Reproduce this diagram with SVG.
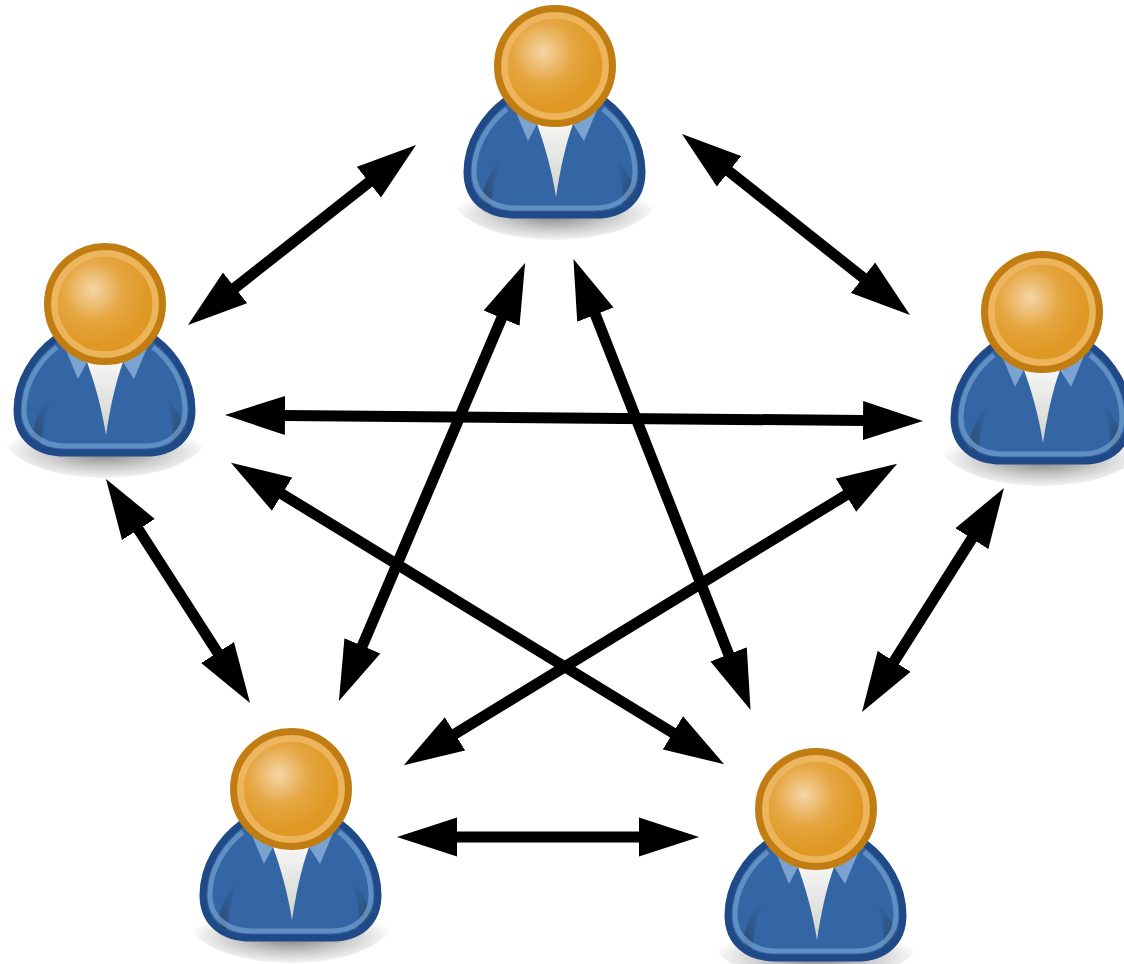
<svg xmlns="http://www.w3.org/2000/svg" xmlns:xlink="http://www.w3.org/1999/xlink" width="1124" height="964" viewBox="0 0 1124 964">
<defs>
<radialGradient id="sh" cx="0.5" cy="0.72" r="0.5" gradientTransform="translate(0.5 0.72) scale(1 0.62) translate(-0.5 -0.72)">
<stop offset="0" stop-color="#000" stop-opacity="0.5"/><stop offset="0.55" stop-color="#000" stop-opacity="0.2"/><stop offset="1" stop-color="#000" stop-opacity="0"/>
</radialGradient>
<radialGradient id="hd" gradientUnits="userSpaceOnUse" cx="-12" cy="-14" r="56">
<stop offset="0" stop-color="#f5d5a6"/><stop offset="0.55" stop-color="#e5a540"/><stop offset="1" stop-color="#df9823"/>
</radialGradient>
<linearGradient id="shirt" x1="0" y1="0" x2="0" y2="1"><stop offset="0" stop-color="#fff"/><stop offset="1" stop-color="#cfd2cc"/></linearGradient>
<linearGradient id="wl" x1="1" y1="0" x2="0" y2="1"><stop offset="0" stop-color="#204a87" stop-opacity="0"/><stop offset="1" stop-color="#2e3436" stop-opacity="0.6"/></linearGradient>
<linearGradient id="wr" x1="0" y1="0" x2="1" y2="1"><stop offset="0" stop-color="#204a87" stop-opacity="0"/><stop offset="1" stop-color="#2e3436" stop-opacity="0.65"/></linearGradient>
<marker id="ah" markerUnits="userSpaceOnUse" markerWidth="62" markerHeight="40" refX="1" refY="20" viewBox="0 0 62 40" orient="auto-start-reverse"><path d="M0 0.5L60 20L0 39.5Z" fill="#000"/></marker>
<g id="person">
<ellipse cx="0" cy="128" rx="104" ry="46" fill="url(#sh)"/>
<path d="M-50 35C-70 50-88 76-88 106C-88 134-68 149-40 149L40 149C68 149 87 134 87 106C87 76 70 50 50 35Z" fill="#3465a4" stroke="#204a87" stroke-width="7"/>
<path d="M-73 131C-70 115-62 100-52 91C-60 105-62 125-64 141C-69 139-71 135-73 131Z" fill="url(#wl)"/>
<path d="M60 91C66 105 68 120 68 138C74 135 78 128 80 122C74 110 68 100 60 91Z" fill="url(#wr)"/>
<path d="M-48 43C-66 57-81 80-81 106C-81 128-64 142-40 142L40 142C64 142 80 128 80 106C80 80 66 57 48 43" fill="none" stroke="#729fcf" stroke-opacity="0.72" stroke-width="5"/>
<path d="M-40 44L-27 75L-18 58L-10 40Z" fill="#7ba3d2"/>
<path d="M42 44L29 75L18 58L10 40Z" fill="#7ba3d2"/>
<path d="M-18 58C-10 80-3 105 1 131C5 105 10 80 18 58L18 40L-18 40Z" fill="url(#shirt)"/>
<circle cx="0" cy="0" r="57.5" fill="url(#hd)" stroke="#c17d11" stroke-width="7"/>
<circle cx="0" cy="0" r="50.5" fill="none" stroke="#eeb965" stroke-opacity="0.85" stroke-width="6.5"/>
</g>
</defs>
<style>.c{fill:none;stroke:#000;stroke-width:11;marker-start:url(#ah);marker-end:url(#ah)}</style>
<g id="connectors">
<path class="c" d="M369.7 181.6L234.3 288.4"/>
<path class="c" d="M728.2 170.7L863.8 278.3"/>
<path class="c" d="M502 317.3L362 646.7"/>
<path class="c" d="M595 313.8L729 655.2"/>
<path class="c" d="M284 415.5L864 420.5"/>
<path class="c" d="M281.3 493.6L673.7 733.4"/>
<path class="c" d="M846.8 494.6L454.2 734.4"/>
<path class="c" d="M137.9 528.6L218.1 653.4"/>
<path class="c" d="M972.4 537.8L893.6 662.2"/>
<path class="c" d="M456 837L640 837"/>
</g>
<g id="person-top"><use href="#person" xlink:href="#person" transform="translate(555 66)"/></g>
<g id="person-left"><use href="#person" xlink:href="#person" transform="translate(105 304)"/></g>
<g id="person-right"><use href="#person" xlink:href="#person" transform="translate(1042 312)"/></g>
<g id="person-bottom-left"><use href="#person" xlink:href="#person" transform="translate(291 789)"/></g>
<g id="person-bottom-right"><use href="#person" xlink:href="#person" transform="translate(816 809)"/></g>
</svg>
